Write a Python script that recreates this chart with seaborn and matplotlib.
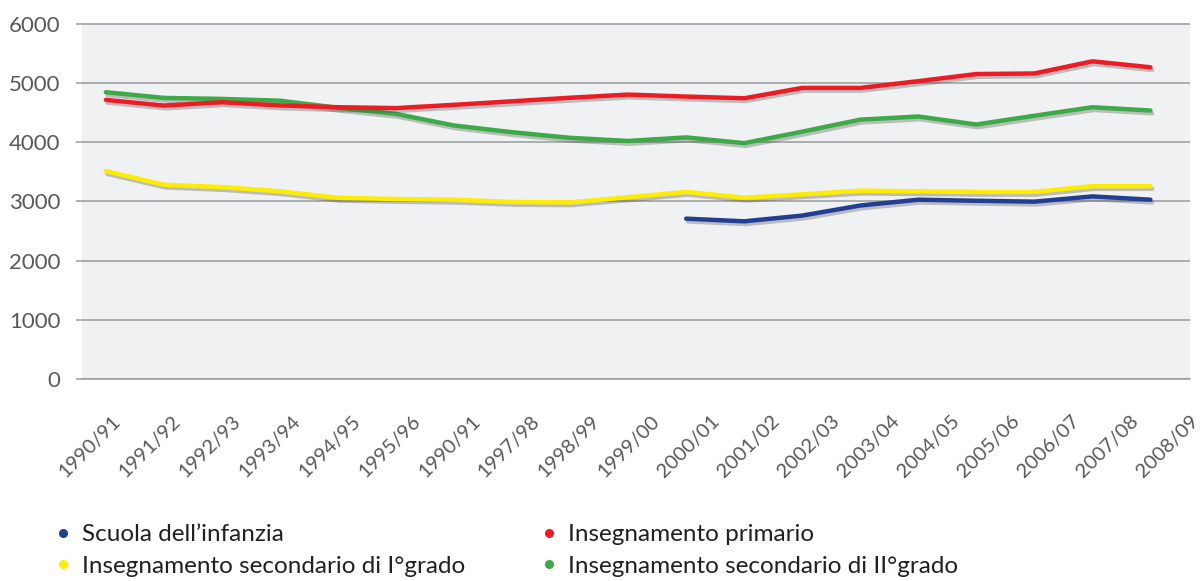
import numpy as np
import pandas as pd
import matplotlib
matplotlib.use("Agg")
import matplotlib.pyplot as plt
import matplotlib.patheffects as pe
from matplotlib.lines import Line2D
import seaborn as sns

# ---- data ----
years = ["1990/91", "1991/92", "1992/93", "1993/94", "1994/95", "1995/96", "1990/91",
         "1997/98", "1998/99", "1999/00", "2000/01", "2001/02", "2002/03", "2003/04",
         "2004/05", "2005/06", "2006/07", "2007/08", "2008/09"]

infanzia = [np.nan] * 10 + [2708, 2663, 2760, 2930, 3028, 3010, 2995, 3084, 3028]
primario = [4714, 4618, 4674, 4620, 4590, 4575, 4630, 4690, 4750, 4803,
            4770, 4741, 4916, 4916, 5030, 5150, 5160, 5365, 5264]
sec1 = [3511, 3281, 3241, 3170, 3060, 3040, 3028, 2990, 2983, 3070,
        3160, 3062, 3120, 3180, 3170, 3160, 3160, 3258, 3258]
sec2 = [4843, 4747, 4730, 4700, 4580, 4477, 4281, 4168, 4073, 4020,
        4080, 3983, 4177, 4380, 4433, 4298, 4446, 4590, 4534]

series_names = ["Scuola dell\u2019infanzia", "Insegnamento primario",
                "Insegnamento secondario di I\u00b0grado",
                "Insegnamento secondario di II\u00b0grado"]
colors = ["#223E92", "#ED1C24", "#FFED00", "#3CAA46"]

# ---- build long frame ----
rows = []
for name, vals in zip(series_names, [infanzia, primario, sec1, sec2]):
    for i, v in enumerate(vals):
        rows.append({"idx": i, "value": v, "series": name})
df = pd.DataFrame(rows).dropna()

sns.set_theme(style="white")
plt.rcParams["font.family"] = ["Lato", "DejaVu Sans"]

W, H = 1202, 581
fig = plt.figure(figsize=(W / 100, H / 100), dpi=100)
ax_left, ax_right, ax_top, ax_bot = 82, 1190, 23, 379
ax = fig.add_axes([ax_left / W, 1 - ax_bot / H, (ax_right - ax_left) / W, (ax_bot - ax_top) / H])
ax.set_facecolor("#F0F1F3")

palette = dict(zip(series_names, colors))
hue_order = [series_names[3], series_names[2], series_names[0], series_names[1]]
sns.lineplot(data=df, x="idx", y="value", hue="series", hue_order=hue_order,
             palette=palette, linewidth=3.2, legend=False, ax=ax, sort=True,
             estimator=None)
for ln in ax.lines:
    ln.set_solid_capstyle("round")
    ln.set_path_effects([pe.SimpleLineShadow(offset=(1.2, -2.0), shadow_color="#444444", alpha=0.3),
                         pe.Normal()])

# x scale: first point at px 106, step 58.4 px
p0, step = 106, 58.4
ax.set_xlim((ax_left - p0) / step, (ax_right - p0) / step)
ax.set_ylim(0, 6012)

# minor ticks: 21 evenly spaced marks from px 87 to 1190
minor = [(87 + k * (1190 - 87) / 20 - p0) / step for k in range(21)]
ax.set_xticks(minor, minor=True)
label_pos = [(112 + k * (1197 - 112) / 18 - p0) / step for k in range(len(years))]
ax.set_xticks(label_pos)
ax.set_xticklabels(years, rotation=45, ha="right", va="top", rotation_mode="anchor",
                   fontsize=14.5, color="#58595B")
ax.tick_params(axis="x", which="major", length=0, pad=24)
ax.tick_params(axis="x", which="minor", length=7.5, width=1.1, color="#9A9A9A", direction="out")

ax.set_yticks(range(0, 6001, 1000))
ax.set_yticklabels([str(v) for v in range(0, 6001, 1000)], fontsize=16, color="#58595B")
ax.tick_params(axis="y", which="major", length=4.5, width=1.1, color="#9A9A9A", pad=11, left=True)
ax.yaxis.grid(True, color="#9A9A9A", linewidth=1.1)
ax.xaxis.grid(False)
for s in ["top", "right", "left"]:
    ax.spines[s].set_visible(False)
ax.spines["bottom"].set_color("#9A9A9A")
ax.spines["bottom"].set_linewidth(1.1)
ax.set_xlabel("")
ax.set_ylabel("")

def mk(c):
    return Line2D([], [], linestyle="none", marker="o", markersize=5.5, color=c)

common = dict(loc="upper left", frameon=False, fontsize=17.5, handlelength=0.6,
              handletextpad=0.45, labelspacing=0.45, labelcolor="#231F20",
              borderpad=0, borderaxespad=0)
leg1 = fig.legend([mk(colors[0]), mk(colors[2])], [series_names[0], series_names[2]],
                  bbox_to_anchor=(56 / W, 1 - 524 / H), **common)
leg2 = fig.legend([mk(colors[1]), mk(colors[3])], [series_names[1], series_names[3]],
                  bbox_to_anchor=(542 / W, 1 - 524 / H), **common)

fig.savefig("out.png", dpi=100, facecolor="white")
